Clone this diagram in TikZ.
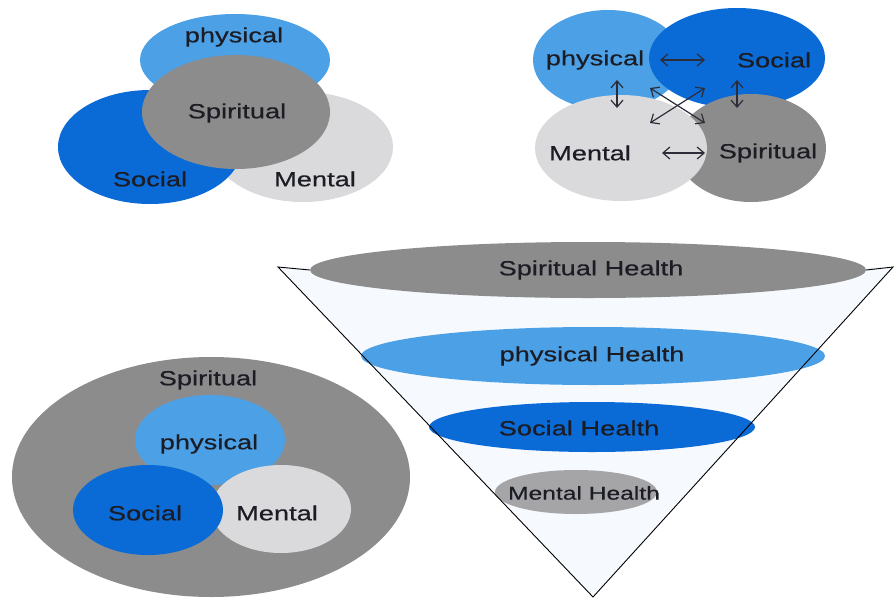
\documentclass[tikz,border=0pt]{standalone}
\usepackage{fontspec}
\setmainfont{Liberation Sans}[FakeStretch=1.33,FakeBold=0.5]
\usetikzlibrary{shapes.geometric,arrows.meta}
\definecolor{lblue}{RGB}{76,160,230}
\definecolor{dblue}{RGB}{10,106,214}
\definecolor{mgray}{RGB}{140,140,140}
\definecolor{lgray}{RGB}{218,218,220}
\definecolor{hgray}{RGB}{165,165,168}
\definecolor{txt}{RGB}{28,28,36}
\definecolor{arr}{RGB}{45,45,58}
\definecolor{funnel}{RGB}{246,249,253}
\tikzset{
  ell/.style={ellipse, inner sep=0pt, draw=none},
  lab/.style={text=txt, font=\fontsize{20.5}{24}\selectfont, inner sep=0pt},
  flab/.style={text=txt, font=\fontsize{20.5}{24}\selectfont, inner sep=0pt},
  mlab/.style={text=txt, font=\fontsize{18.5}{21}\selectfont, inner sep=0pt},
  dbl/.style={draw=arr, line width=1.2pt, {Straight Barb[length=7pt,width=12pt]}-{Straight Barb[length=7pt,width=12pt]}},
  tri/.style={draw=black, line width=0.9pt}
}
\begin{document}
\begin{tikzpicture}[x=1pt,y=-1pt]
\useasboundingbox (0,0) rectangle (896,600);
\fill[white] (0,0) rectangle (896,600);
% ---------- top-left Venn
\node[ell, fill=lblue, minimum width=190pt, minimum height=92pt] (a1) at (235,60) {};
\node[ell, fill=lgray, minimum width=180pt, minimum height=110pt] (a3) at (303,147) {};
\node[ell, fill=dblue, minimum width=184pt, minimum height=114pt] (a2) at (150,147) {};
\node[ell, fill=mgray, minimum width=188pt, minimum height=114pt] (a4) at (236,112) {};
\node[lab] (a1t) at (234,37) {physical};
\node[lab] (a4t) at (237,113) {Spiritual};
\node[lab] (a2t) at (150,179) {Social};
\node[lab] (a3t) at (315,179) {Mental};
% ---------- top-right Venn
\node[ell, fill=lblue, minimum width=150pt, minimum height=100pt] (b1) at (608,60) {};
\node[ell, fill=dblue, minimum width=176pt, minimum height=100pt] (b2) at (737,58) {};
\node[ell, fill=mgray, minimum width=150pt, minimum height=108pt] (b4) at (751,148) {};
\node[ell, fill=lgray, minimum width=172pt, minimum height=106pt] (b3) at (621,148) {};
\node[lab] (b1t) at (595,60) {physical};
\node[lab] (b2t) at (774,60) {Social};
\node[lab] (b3t) at (590,153) {Mental};
\node[lab] (b4t) at (768,153) {Spiritual};
\coordinate (h1l) at (660,60); \coordinate (h1r) at (705,60);
\coordinate (h2l) at (662,153); \coordinate (h2r) at (705,153);
\coordinate (v1t) at (617,80); \coordinate (v1b) at (617,108);
\coordinate (v2t) at (737,80); \coordinate (v2b) at (737,108);
\coordinate (x1a) at (650,88); \coordinate (x1b) at (705,123);
\coordinate (x2a) at (705,88); \coordinate (x2b) at (650,123);
\draw[dbl] (h1l) -- (h1r);
\draw[dbl] (h2l) -- (h2r);
\draw[dbl] (v1t) -- (v1b);
\draw[dbl] (v2t) -- (v2b);
\draw[dbl] (x1a) -- (x1b);
\draw[dbl] (x2a) -- (x2b);
% ---------- bottom-left nested
\node[ell, fill=mgray, minimum width=398pt, minimum height=240pt] (c0) at (211,477) {};
\node[ell, fill=lblue, minimum width=150pt, minimum height=90pt] (c1) at (210,440) {};
\node[ell, fill=lgray, minimum width=140pt, minimum height=88pt] (c3) at (281,509) {};
\node[ell, fill=dblue, minimum width=150pt, minimum height=90pt] (c2) at (148,510) {};
\node[lab] (c0t) at (208,380) {Spiritual};
\node[lab] (c1t) at (209,444) {physical};
\node[lab] (c2t) at (145,513) {Social};
\node[lab] (c3t) at (277,513) {Mental};
% ---------- funnel
\coordinate (tl) at (278,267);
\coordinate (tr) at (893,267);
\coordinate (ap) at (593,597);
\fill[funnel] (tl) -- (ap) -- (tr) -- cycle;
\node[ell, fill=mgray, minimum width=556pt, minimum height=56pt] (f1) at (588,270) {};
\node[ell, fill=lblue, minimum width=464pt, minimum height=58pt] (f2) at (593,356) {};
\node[ell, fill=dblue, minimum width=326pt, minimum height=50pt] (f3) at (592,427) {};
\node[ell, fill=hgray, minimum width=162pt, minimum height=44pt] (f4) at (576,492) {};
\draw[tri] (f1.west) -- (tl) -- (ap) -- (tr) -- (f1.east);
\node[flab] (f1t) at (591,270) {Spiritual Health};
\node[flab] (f2t) at (592,356) {physical Health};
\node[flab] (f3t) at (579,428) {Social Health};
\node[mlab] (f4t) at (584,493) {Mental Health};
\end{tikzpicture}
\end{document}
